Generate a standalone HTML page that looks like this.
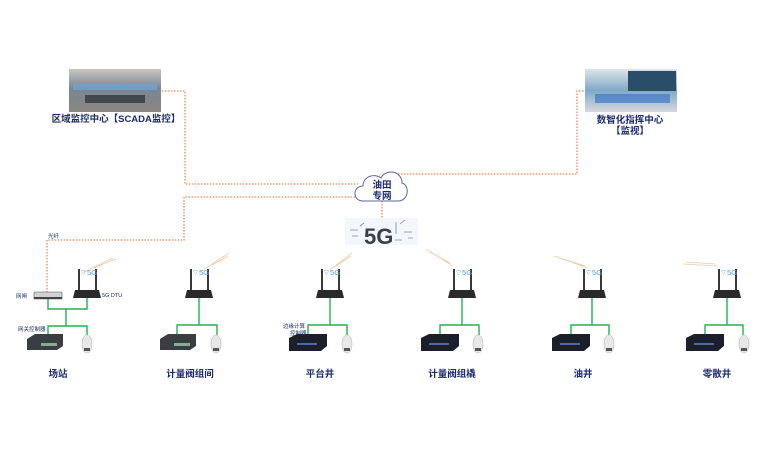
<!DOCTYPE html>
<html><head><meta charset="utf-8"><style>
body{margin:0;background:#fff;}
svg{display:block;font-family:"Liberation Sans","Noto Sans CJK SC",sans-serif;}
.lb{font-size:9.5px;font-weight:bold;fill:#1b2a6b;text-anchor:middle;}
.sm{font-size:5.5px;fill:#1b2a6b;}
.or{stroke:#ee8a4f;stroke-width:1.3;stroke-dasharray:1.5 1.5;fill:none;}
.gr{stroke:#22b24c;stroke-width:1.4;fill:none;}
.bolt{stroke:#f0c9a8;stroke-width:0.8;fill:none;}
</style></head><body>
<svg width="770" height="455" viewBox="0 0 770 455">
<defs>
<linearGradient id="p1" x1="0" y1="0" x2="0" y2="1"><stop offset="0" stop-color="#c9c6c0"/><stop offset="0.45" stop-color="#7a8594"/><stop offset="1" stop-color="#8a8780"/></linearGradient>
<linearGradient id="p2" x1="0" y1="0" x2="0" y2="1"><stop offset="0" stop-color="#dfe4ea"/><stop offset="0.5" stop-color="#7fa9c8"/><stop offset="1" stop-color="#d6d9dc"/></linearGradient>
<g id="router">
<line x1="-8" y1="-25" x2="-8" y2="-2" stroke="#222" stroke-width="1.8"/>
<line x1="9" y1="-25" x2="9" y2="-2" stroke="#222" stroke-width="1.8"/>
<path d="M-12,-4 H12 L14,4 H-14 Z" fill="#2a2a2a"/>
<text x="-7" y="-19" font-size="7.5" fill="#5aa0dc">⌔5G</text>
</g>
<g id="box">
<path d="M0,4 L8,0 H38 V12 L32,17 H0 Z" fill="#1c1f2a"/>
<rect x="8" y="9" width="20" height="2" fill="#4a6aa0"/>
</g>
<g id="cam">
<ellipse cx="5" cy="8" rx="5" ry="9" fill="#e8e8e8" stroke="#bbb" stroke-width="0.6"/>
<rect x="2" y="12" width="6" height="3" fill="#555"/>
</g>
</defs>

<rect x="69" y="69" width="92" height="43" fill="url(#p1)"/>
<rect x="73" y="84" width="84" height="6" fill="#6ea6d6" opacity="0.7"/>
<rect x="85" y="95" width="60" height="8" fill="#2a2e36" opacity="0.7"/>
<text class="lb" x="116" y="122">区域监控中心【SCADA监控】</text>
<rect x="585" y="69" width="92" height="43" fill="url(#p2)"/>
<rect x="628" y="71" width="48" height="20" fill="#2a4e6a"/>
<rect x="595" y="94" width="75" height="9" fill="#2b6cc4" opacity="0.6"/>
<text class="lb" x="630" y="123">数智化指挥中心</text>
<text class="lb" x="630" y="134">【监视】</text>

<polyline class="or" points="162,91 185,91 185,184 358,184"/>
<polyline class="or" points="358,197 184,197 184,240 47,240 47,292"/>
<polyline class="or" points="392,174 577,174 577,91 585,91"/>
<line class="or" x1="382" y1="201" x2="382" y2="218"/>
<text class="sm" x="48" y="238">光纤</text>

<path d="M362,201 C352,200 353,186 363,186 C363,176 375,173 381,178 C386,168 402,171 402,183 C410,185 409,201 398,201 Z" fill="#fff" stroke="#5a6a98" stroke-width="1"/>
<text class="lb" x="382" y="188" font-size="8.5">油田</text>
<text class="lb" x="382" y="199" font-size="8.5">专网</text>

<rect x="345" y="218" width="73" height="27" fill="#f3f6fa"/>
<text x="364" y="244" font-size="22" font-weight="bold" fill="#3a3f48">5G</text>
<g stroke="#7a8aa8" stroke-width="0.8" fill="none"><path d="M350,230h8M352,236h6M400,224l5,-4M404,232h8M408,238h5M360,226l4,-3M395,240h7M396,222v12"/></g>

<path class="bolt" d="M84,272 L113,258 M98,266 L116,259 M101,265 L94,268"/>
<path class="bolt" d="M200,272 L229,253 M212,265 L228,256"/>
<path class="bolt" d="M330,270 L352,253 M336,266 L351,256"/>
<path class="bolt" d="M426,249 L453,266 M430,252 L450,263"/>
<path class="bolt" d="M554,256 L588,268 M560,258 L585,266"/>
<path class="bolt" d="M683,264 L718,266 M686,262 L715,264"/>

<rect x="34" y="292" width="28" height="7" rx="1" fill="#d0d2d6" stroke="#555" stroke-width="0.6"/>
<rect x="34" y="297" width="28" height="2" fill="#444"/>
<text class="sm" x="16" y="298">网闸</text>
<text class="sm" x="102" y="297">5G DTU</text>
<use href="#router" x="87" y="294"/>
<polyline class="gr" points="48,299 48,309 87,309 87,298"/>
<polyline class="gr" points="66,309 66,326"/>
<polyline class="gr" points="48,334 48,326 87,326 87,335"/>
<text class="sm" x="18" y="331">网关控制器</text>
<g transform="translate(27,334)"><path d="M0,5 L8,0 H36 V12 L30,16 H0 Z" fill="#3a3d42"/><rect x="14" y="9" width="16" height="3" fill="#8a9"/></g>
<use href="#cam" x="82" y="336"/>
<text class="lb" x="58" y="377">场站</text>

<use href="#router" x="199" y="294"/>
<polyline class="gr" points="199,298 199,325"/>
<polyline class="gr" points="177,334 177,325 217,325 217,335"/>
<g transform="translate(160,334)"><path d="M0,5 L8,0 H36 V12 L30,16 H0 Z" fill="#3a3d42"/><rect x="14" y="9" width="16" height="3" fill="#8a9"/></g>
<use href="#cam" x="211" y="336"/>
<text class="lb" x="190" y="377">计量阀组间</text>

<use href="#router" x="330" y="294"/>
<polyline class="gr" points="330,298 330,325"/>
<polyline class="gr" points="308,334 308,325 347,325 347,335"/>
<use href="#box" x="289" y="334"/>
<use href="#cam" x="342" y="336"/>
<text class="sm" x="283" y="328">边缘计算</text>
<text class="sm" x="290" y="335">控制器</text>
<text class="lb" x="320" y="377">平台井</text>

<use href="#router" x="462" y="294"/>
<polyline class="gr" points="462,298 462,325"/>
<polyline class="gr" points="440,334 440,325 479,325 479,335"/>
<use href="#box" x="421" y="334"/>
<use href="#cam" x="473" y="336"/>
<text class="lb" x="452" y="377">计量阀组橇</text>

<use href="#router" x="592" y="294"/>
<polyline class="gr" points="592,298 592,325"/>
<polyline class="gr" points="571,334 571,325 609,325 609,335"/>
<use href="#box" x="552" y="334"/>
<use href="#cam" x="604" y="336"/>
<text class="lb" x="583" y="377">油井</text>

<use href="#router" x="727" y="294"/>
<polyline class="gr" points="727,298 727,325"/>
<polyline class="gr" points="705,334 705,325 743,325 743,335"/>
<use href="#box" x="686" y="334"/>
<use href="#cam" x="739" y="336"/>
<text class="lb" x="717" y="377">零散井</text>
</svg>
</body></html>
